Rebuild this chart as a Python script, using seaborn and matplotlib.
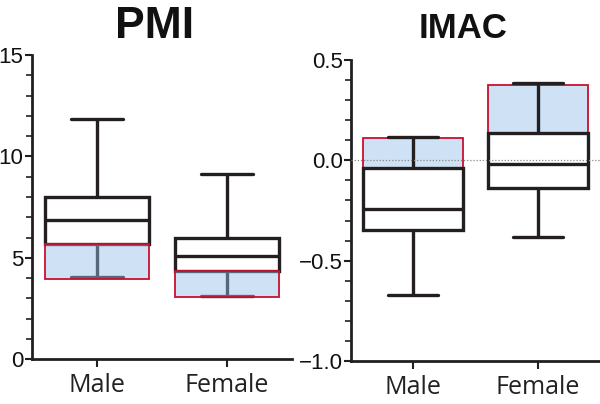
import numpy as np
import pandas as pd
import matplotlib
matplotlib.use("Agg")
import matplotlib.pyplot as plt
from matplotlib.ticker import MultipleLocator
import seaborn as sns

# ---------------- data ----------------
groups = ["Male", "Female"]
# five-number summaries (min, Q1, median, Q3, max)
pmi_male = [4.04, 5.68, 6.87, 7.98, 11.83]
pmi_female = [3.14, 4.35, 5.09, 5.99, 9.12]
imac_male = [-0.671, -0.347, -0.242, -0.037, 0.115]
imac_female = [-0.383, -0.136, -0.018, 0.135, 0.384]

# highlighted ranges (low, high) per group
pmi_hl_low = [3.96, 3.09]
pmi_hl_high = [5.68, 4.35]
imac_hl_low = [-0.037, 0.135]
imac_hl_high = [0.110, 0.374]

titles = ["PMI", "IMAC"]
pmi_ticks = [0, 5, 10, 15]
imac_ticks = [-1.0, -0.5, 0.0, 0.5]

# ---------------- style ----------------
sns.set_style("ticks")
plt.rcParams["font.family"] = ["Open Sans", "DejaVu Sans"]

line_col = "#231f20"
fill_col = (149 / 255, 191 / 255, 233 / 255)
edge_red = "#c8102e"

df_pmi = pd.DataFrame({"Sex": ["Male"] * len(pmi_male) + ["Female"] * len(pmi_female),
                       "value": pmi_male + pmi_female})
df_imac = pd.DataFrame({"Sex": ["Male"] * len(imac_male) + ["Female"] * len(imac_female),
                        "value": imac_male + imac_female})

fig = plt.figure(figsize=(6.0, 4.04), dpi=100)
ax1 = fig.add_axes([31.7 / 600, 44.7 / 404, 260 / 600, 304.3 / 404])
ax2 = fig.add_axes([351 / 600, 43 / 404, 249 / 600, 301 / 404])

box_kw = dict(order=groups, whis=(0, 100), width=0.8, color="white",
              linecolor=line_col, linewidth=2.4, showfliers=False, saturation=1)

sns.boxplot(data=df_pmi, x="Sex", y="value", ax=ax1, **box_kw)
sns.boxplot(data=df_imac, x="Sex", y="value", ax=ax2, **box_kw)

pos = np.arange(len(groups))
# PMI highlight drawn on top (semi-transparent)
ax1.bar(pos, np.array(pmi_hl_high) - np.array(pmi_hl_low), bottom=pmi_hl_low, width=0.8,
        color=(*fill_col, 0.45), edgecolor=edge_red, linewidth=1.3, zorder=5)
# IMAC highlight drawn under the box lines
ax2.bar(pos, np.array(imac_hl_high) - np.array(imac_hl_low), bottom=imac_hl_low, width=0.8,
        color="#cfe2f5", edgecolor=edge_red, linewidth=1.3, zorder=1.5)
ax2.axhline(0, ls=(0, (1, 1.5)), color="#888888", lw=0.9, zorder=10)

tick_font = ["Liberation Sans Narrow", "Liberation Sans", "DejaVu Sans"]
for ax, ticks, lim, minor in [(ax1, pmi_ticks, (0, 15), 1), (ax2, imac_ticks, (-1.0, 0.5), 0.1)]:
    ax.set_xlim(-0.5, 1.5)
    ax.set_ylim(*lim)
    ax.set_yticks(ticks)
    ax.yaxis.set_minor_locator(MultipleLocator(minor))
    ax.set_xlabel("")
    ax.set_ylabel("")
    sns.despine(ax=ax)
    ax.spines["left"].set_linewidth(2)
    ax.spines["bottom"].set_linewidth(2)
    ax.spines["left"].set_color(line_col)
    ax.spines["bottom"].set_color(line_col)
    ax.tick_params(axis="y", which="major", length=5, width=1.5, pad=1, labelsize=16,
                   color=line_col, labelcolor="#111111")
    ax.tick_params(axis="y", which="minor", length=4, width=1.2, color=line_col)
    ax.tick_params(axis="x", length=6, width=1.5, pad=4, labelsize=18, color=line_col,
                   labelcolor="#222222")

ax2.set_yticklabels([f"{t:.1f}".replace("-", "\u2212") for t in imac_ticks])
for ax in (ax1, ax2):
    for lab in ax.get_yticklabels():
        lab.set_family(tick_font)

fig.text(155 / 600, 1 - 26 / 404, titles[0], fontsize=32, fontweight="bold",
         ha="center", va="center", family=["Liberation Sans", "DejaVu Sans"], color="#111111")
fig.text(463 / 600, 1 - 29 / 404, titles[1], fontsize=25, fontweight="bold",
         ha="center", va="center", family=["Liberation Sans", "DejaVu Sans"], color="#111111")

fig.savefig("out.png", dpi=100)
